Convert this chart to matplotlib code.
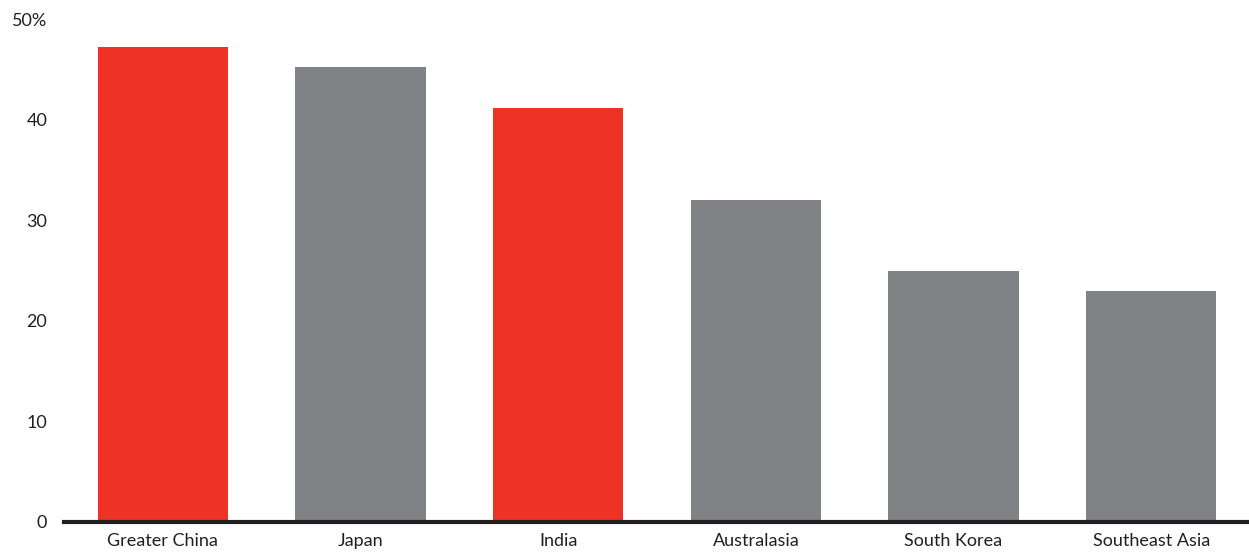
import matplotlib.pyplot as plt

regions = ["Greater China", "Japan", "India", "Australasia", "South Korea", "Southeast Asia"]
shares = [47.2, 45.2, 41.2, 32.0, 25.0, 23.0]
highlight = [True, False, True, False, False, False]
y_ticks = [0, 10, 20, 30, 40, 50]
y_tick_labels = ["0", "10", "20", "30", "40", "50%"]

RED = "#EE3226"
GREY = "#818285"


def draw_bars(ax):
    colors = [RED if h else GREY for h in highlight]
    ax.bar(range(len(regions)), shares, width=0.66, color=colors, zorder=2)
    ax.set_xticks(range(len(regions)))
    ax.set_xticklabels(regions)
    ax.set_yticks(y_ticks)
    ax.set_yticklabels(y_tick_labels)
    ax.set_xlim(-0.5, 5.5)
    ax.set_ylim(0, 50)


def style_axes(ax):
    for side in ["top", "right", "left"]:
        ax.spines[side].set_visible(False)
    ax.spines["bottom"].set_linewidth(3)
    ax.spines["bottom"].set_color("#231F20")
    ax.spines["bottom"].set_zorder(3)
    ax.tick_params(axis="both", length=0, labelsize=13, colors="#231F20")
    ax.tick_params(axis="x", pad=8)
    ax.tick_params(axis="y", pad=12)


if __name__ == "__main__":
    plt.rcParams["font.family"] = ["Lato", "DejaVu Sans"]
    fig = plt.figure(figsize=(12.49, 5.53), dpi=100)
    ax = fig.add_axes([64 / 1249, 31 / 553, 1186 / 1249, 503 / 553])
    draw_bars(ax)
    style_axes(ax)
    fig.savefig("out.png", dpi=100)
